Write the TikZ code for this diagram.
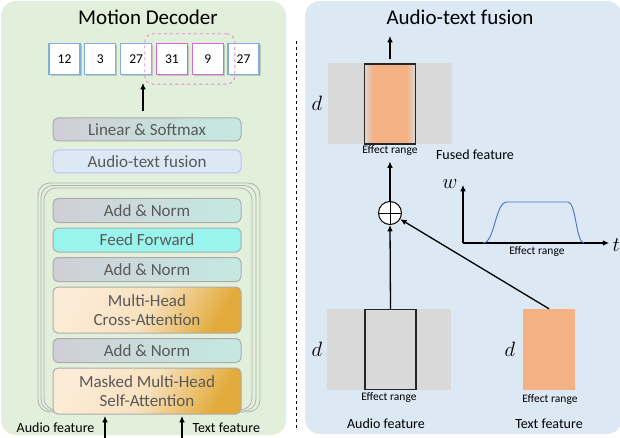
\documentclass[tikz,border=0pt]{standalone}
\usepackage{fontspec}
\setmainfont{Carlito}
\usetikzlibrary{arrows.meta,fit,positioning,shadows}
\definecolor{decgreen}{HTML}{E2EFDA}
\definecolor{fusblue}{HTML}{DDE8F5}
\definecolor{tokblue}{HTML}{7FB0DC}
\definecolor{tokpink}{HTML}{D36AD3}
\definecolor{lingray}{HTML}{CFCFD6}
\definecolor{linteal}{HTML}{C4E9E1}
\definecolor{attlight}{HTML}{FCEBD6}
\definecolor{attgold}{HTML}{E2AA3A}
\definecolor{ffcyan}{HTML}{98F4EC}
\definecolor{featgray}{HTML}{D9D9D9}
\definecolor{featorange}{HTML}{F4B183}
\definecolor{curveblue}{HTML}{4472C4}
\definecolor{boxtext}{HTML}{595959}
\pgfdeclarehorizontalshading{effshade}{100bp}{color(0bp)=(featgray); color(25bp)=(featgray); color(33bp)=(featorange); color(66bp)=(featorange); color(75bp)=(featgray); color(100bp)=(featgray)}

\begin{document}
\begin{tikzpicture}[x=1pt,y=-1pt,
  every node/.style={font=\fontsize{14}{16}\selectfont},
  title/.style={font=\fontsize{21}{24}\selectfont},
  tok/.style={draw=tokblue,line width=1.3pt,fill=white,minimum width=31pt,minimum height=31pt,inner sep=0pt,
    font=\fontsize{13.5}{15}\selectfont,drop shadow={opacity=0.35,shadow xshift=1.5pt,shadow yshift=-1.5pt}},
  tokhot/.style={tok,draw=tokpink},
  layer/.style={draw=gray!65,line width=1pt,rounded corners=5pt,minimum width=188pt,minimum height=24pt,
    inner sep=0pt,text=boxtext,align=center,font=\fontsize{17}{19.5}\selectfont},
  norm/.style={layer,left color=lingray,right color=linteal},
  attn/.style={layer,minimum height=46pt,top color=attlight,bottom color=attgold,middle color=attlight!85!attgold,shading angle=60},
  ffwd/.style={layer,fill=ffcyan},
  fusebox/.style={layer,draw=blue!25,fill=fusblue,minimum height=23pt},
  stackline/.style={draw=gray!60,line width=0.8pt,rounded corners=12pt},
  arr/.style={-{Latex[length=2.2mm,width=2mm]},line width=1.3pt},
  featbg/.style={fill=featgray,minimum width=124pt,minimum height=81pt,inner sep=0pt},
  featbox/.style={draw=black!85,line width=1.2pt,minimum width=51pt,minimum height=80pt,inner sep=0pt},
  small/.style={font=\fontsize{11.5}{13}\selectfont},
  dlabel/.style={font=\fontsize{21}{23}\selectfont}
]
\useasboundingbox (0,0) rectangle (620,438);

% panels
\fill[decgreen,rounded corners=15pt] (1,1) rectangle (286,435);
\fill[fusblue,rounded corners=15pt] (305,1) rectangle (622,434);
\draw[dashed,line width=0.6pt] (296,41) -- (296,430);

%%% left: motion decoder
\node[title] (dectitle) at (148,17) {Motion Decoder};

\node[tok] (t1) at (64.5,59) {12};
\node[tok,right=3.5pt of t1] (t2) {3};
\node[tok,right=3.5pt of t2] (t3) {27};
\node[tokhot,right=3.5pt of t3] (t4) {31};
\node[tokhot,right=3.5pt of t4] (t5) {9};
\node[tok,right=3.5pt of t5] (t6) {27};
\node[draw=tokpink!80,dashed,line width=0.8pt,rounded corners=8pt,fit=(t4) (t5),inner xsep=11pt,inner ysep=9pt] (window) {};

\node[norm,minimum height=23pt] (linear) at (147,129.5) {Linear \& Softmax};
\node[fusebox,below=8pt of linear] (fusion) {Audio-text fusion};
\coordinate (outtip) at (143,83);
\draw[arr,line width=1.8pt,shorten <=6pt] (outtip |- linear.north) -- (outtip);

\draw[stackline] (38,183) rectangle (260,412);
\draw[stackline] (41,185.5) rectangle (256,411);
\draw[stackline] (44,188) rectangle (252,410);

\node[norm] (an1) at (147,210.5) {Add \& Norm};
\node[ffwd,below=4.5pt of an1] (ff) {Feed Forward};
\node[norm,below=4.5pt of ff] (an2) {Add \& Norm};
\node[attn,below=4.5pt of an2] (cross) {Multi-Head\\Cross-Attention};
\node[norm,below=4.5pt of cross] (an3) {Add \& Norm};
\node[attn,below=4.5pt of an3] (masked) {Masked Multi-Head\\Self-Attention};

\node[anchor=east] (audiolbl) at (98,428) {Audio feature};
\node[anchor=west] (textlbl) at (189,428) {Text feature};
\coordinate (audioin) at (105,440);
\coordinate (audiotip) at (105,416);
\coordinate (textin) at (182,440);
\coordinate (texttip) at (182,416);
\draw[arr] (audioin) -- (audiotip);
\draw[arr] (textin) -- (texttip);

%%% right: audio-text fusion
\node[title] (fustitle) at (460,17) {Audio-text fusion};

% fused feature
\node[featbg] (fusedbg) at (390,104) {};
\node[featbox,shading=effshade] (fused) at (390,104) {};
\node[dlabel] (fusedd) at (317,103) {$d$};
\node[small] (fusedrange) at (390,151) {Effect range};
\node (fusedlbl) at (475,155) {Fused feature};
\coordinate (fusedout) at (390,36);
\draw[arr,shorten <=4pt] (fused.north) -- (fusedout);

% sum
\node[circle,draw,line width=1pt,fill=white,minimum size=23pt,inner sep=0pt] (sum) at (390,213) {};
\draw[line width=0.8pt] (sum.north) -- (sum.south) (sum.west) -- (sum.east);
\draw[arr,shorten >=2pt] (sum.north) -- (fusedrange.south);

% audio feature
\node[featbg] (audiobg) at (389,349.5) {};
\node[featbox,fill=featgray] (audio) at (390.5,349.5) {};
\node[dlabel] (audiod) at (317,349) {$d$};
\node[small] (audiorange) at (389,398) {Effect range};
\node (audiolbl2) at (386,424) {Audio feature};
\draw[arr] (audio.north) -- (sum.south);

% text feature
\node[fill=featorange,minimum width=52pt,minimum height=81pt,inner sep=0pt] (text) at (549,349.5) {};
\node[dlabel] (textd) at (510,349) {$d$};
\node[small] (textrange) at (550,400) {Effect range};
\node (textlbl2) at (549,424) {Text feature};
\draw[arr] (text.north) -- (sum);

% weight curve
\coordinate (origin) at (463,243);
\coordinate (wtip) at (463,185);
\coordinate (ttip) at (609,243);
\draw[arr,line width=1.1pt] (origin) -- (wtip);
\draw[arr,line width=1.1pt] (origin) -- (ttip);
\node[dlabel,anchor=east] (wlbl) at (461,184) {$w$};
\node[dlabel,anchor=west] (tlbl) at (609,245) {$t$};
\node[small] (wrange) at (537,252) {Effect range};
\draw[curveblue,line width=0.9pt] (483,243) .. controls (495,243) and (495,202) .. (507,202)
  -- (568,202) .. controls (576,202) and (576,243) .. (584,243);
\end{tikzpicture}
\end{document}
